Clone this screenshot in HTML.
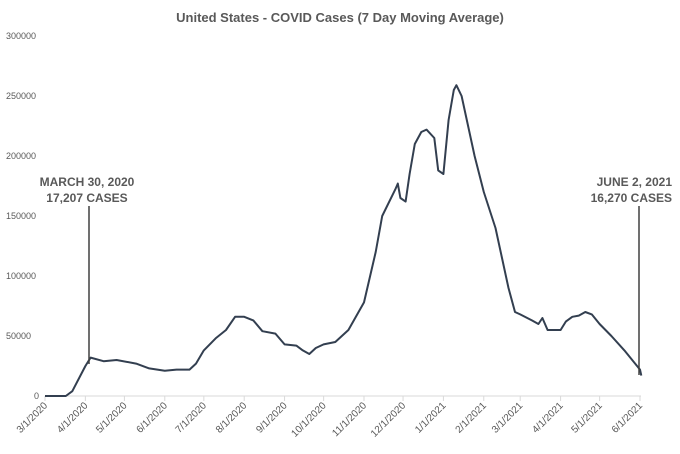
<!DOCTYPE html>
<html><head><meta charset="utf-8"><style>
body{margin:0;background:#fff;}
svg text{font-family:"Liberation Sans",sans-serif;fill:#595959;}
</style></head><body>
<svg id="chart" width="680" height="449" xmlns="http://www.w3.org/2000/svg">
<text x="340" y="22" text-anchor="middle" font-size="13" font-weight="bold">United States - COVID Cases (7 Day Moving Average)</text>
<g id="yaxis"></g>
<g id="xaxis"></g>
<path id="line" fill="none" stroke="#333f50" stroke-width="2" stroke-linejoin="round"></path>
<g>
<text x="87" y="186" text-anchor="middle" font-size="12" font-weight="bold">MARCH 30, 2020</text>
<text x="87" y="202" text-anchor="middle" font-size="12" font-weight="bold">17,207 CASES</text>
<line x1="89" y1="206" x2="89" y2="364" stroke="#404040" stroke-width="1.5"/>
</g>
<g>
<text x="672" y="186" text-anchor="end" font-size="12" font-weight="bold">JUNE 2, 2021</text>
<text x="672" y="202" text-anchor="end" font-size="12" font-weight="bold">16,270 CASES</text>
<line x1="639" y1="206" x2="639" y2="375" stroke="#404040" stroke-width="1.5"/>
</g>
</svg>
<script>
const dates=["2020-03-01","2020-03-17","2020-03-22","2020-04-01","2020-04-05","2020-04-15","2020-04-25","2020-05-10","2020-05-20","2020-06-01","2020-06-10","2020-06-20","2020-06-25","2020-07-01","2020-07-10","2020-07-18","2020-07-25","2020-08-01","2020-08-08","2020-08-15","2020-08-25","2020-09-01","2020-09-10","2020-09-15","2020-09-20","2020-09-25","2020-10-01","2020-10-10","2020-10-20","2020-11-01","2020-11-10","2020-11-15","2020-11-25","2020-11-27","2020-11-29","2020-12-03","2020-12-06","2020-12-10","2020-12-15","2020-12-19","2020-12-25","2020-12-28","2021-01-01","2021-01-05","2021-01-09","2021-01-11","2021-01-15","2021-01-20","2021-01-25","2021-02-01","2021-02-10","2021-02-15","2021-02-20","2021-02-25","2021-03-01","2021-03-10","2021-03-15","2021-03-18","2021-03-22","2021-04-01","2021-04-05","2021-04-10","2021-04-15","2021-04-20","2021-04-25","2021-05-01","2021-05-10","2021-05-20","2021-06-01","2021-06-02"];
const cases=[0,0,4000,25000,32000,29000,30000,27000,23000,21000,22000,22000,27000,38000,48000,55000,66000,66000,63000,54000,52000,43000,42000,38000,35000,40000,43000,45000,55000,78000,120000,150000,172000,177000,165000,162000,185000,210000,220000,222000,215000,188000,185000,230000,255000,259000,250000,225000,200000,170000,140000,115000,90000,70000,68000,63000,60000,65000,55000,55000,62000,66000,67000,70000,68000,60000,50000,38000,22000,17000];
const tickLabels=["3/1/2020","4/1/2020","5/1/2020","6/1/2020","7/1/2020","8/1/2020","9/1/2020","10/1/2020","11/1/2020","12/1/2020","1/1/2021","2/1/2021","3/1/2021","4/1/2021","5/1/2021","6/1/2021"];
const yTicks=[0,50000,100000,150000,200000,250000,300000];
const NS="http://www.w3.org/2000/svg";
const t0=Date.UTC(2020,2,1),t1=Date.UTC(2021,5,1);
function parse(s){const p=s.split(/[-\/]/).map(Number);return s.includes("-")?Date.UTC(p[0],p[1]-1,p[2]):Date.UTC(p[2],p[0]-1,p[1]);}
const x=t=>45+(t-t0)/(t1-t0)*595;
const y=v=>396-v/300000*360;
const ya=document.getElementById("yaxis");
yTicks.forEach(v=>{const tx=document.createElementNS(NS,"text");


tx.setAttribute("x",v===0?34:6);tx.setAttribute("y",y(v)+3);tx.setAttribute("font-size","9");tx.textContent=v;ya.appendChild(tx);});
const xa=document.getElementById("xaxis");
const ax=document.createElementNS(NS,"line");


ax.setAttribute("x1",45);ax.setAttribute("x2",641);ax.setAttribute("y1",396);ax.setAttribute("y2",396);ax.setAttribute("stroke","#d9d9d9");xa.appendChild(ax);
tickLabels.forEach(l=>{const px=x(parse(l));
const tk=document.createElementNS(NS,"line");


tk.setAttribute("x1",px);tk.setAttribute("x2",px);tk.setAttribute("y1",396);tk.setAttribute("y2",401);tk.setAttribute("stroke","#d9d9d9");xa.appendChild(tk);
const tx=document.createElementNS(NS,"text");


tx.setAttribute("x",px+3);tx.setAttribute("y",406);tx.setAttribute("font-size","10");tx.setAttribute("text-anchor","end");
tx.setAttribute("transform","rotate(-45 "+(px+3)+" 406)");tx.textContent=l;xa.appendChild(tx);});
document.getElementById("line").setAttribute("d",dates.map((d,i)=>(i?"L":"M")+x(parse(d)).toFixed(1)+","+y(cases[i]).toFixed(1)).join(""));
</script>
</body></html>
